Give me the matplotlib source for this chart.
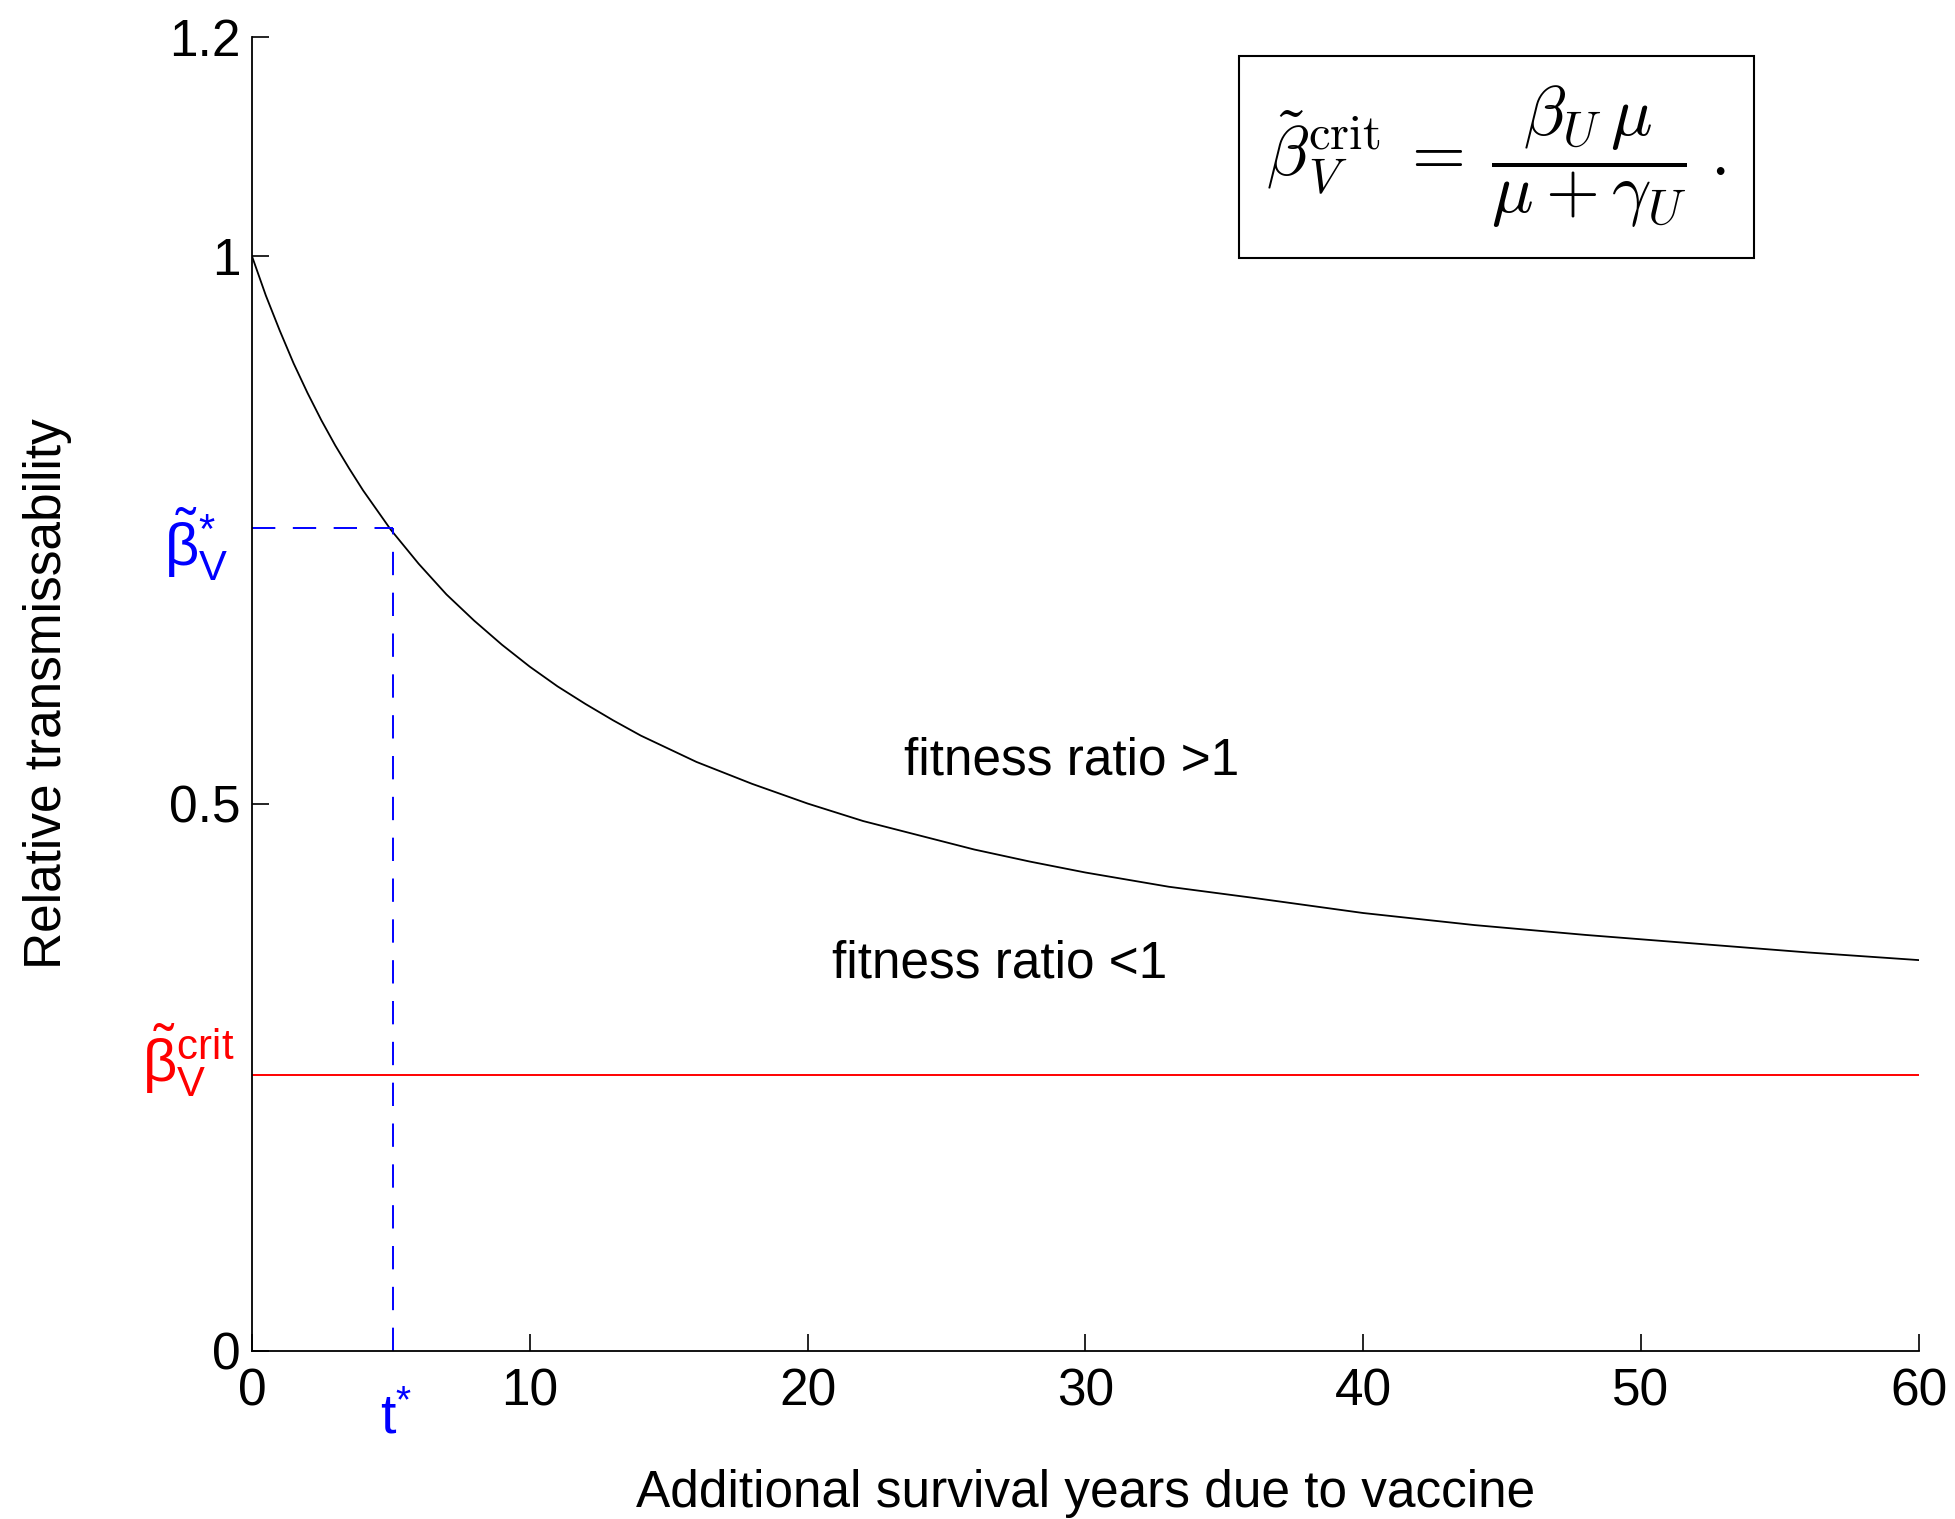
import numpy as np
import matplotlib
matplotlib.use('Agg')
import matplotlib.pyplot as plt

# values
years = [0, 0.5, 1, 1.5, 2, 2.5, 3, 3.5, 4, 5, 6, 7, 8, 9, 10, 11, 12, 13,
         14, 16, 18, 20, 22, 24, 26, 28, 30, 33, 36, 40, 44, 48, 52, 56, 60]
transmissability = [1.000, 0.964, 0.932, 0.902, 0.875, 0.850, 0.827, 0.806,
                    0.786, 0.750, 0.719, 0.691, 0.667, 0.645, 0.625, 0.607,
                    0.591, 0.576, 0.562, 0.538, 0.518, 0.500, 0.484, 0.471,
                    0.458, 0.447, 0.437, 0.424, 0.414, 0.400, 0.389, 0.380,
                    0.372, 0.364, 0.357]
t_star = 5.07
beta_star = 0.752
beta_crit = 0.252
x_ticks = [0, 10, 20, 30, 40, 50, 60]
y_ticks = [0, 0.5, 1, 1.2]
y_tick_labels = ['0', '0.5', '1', '1.2']

plt.rcParams['font.family'] = ['Liberation Sans', 'DejaVu Sans']
plt.rcParams['mathtext.fontset'] = 'custom'
plt.rcParams['mathtext.rm'] = 'Liberation Sans'
plt.rcParams['mathtext.it'] = 'Liberation Sans:italic'

fs = 37

fig = plt.figure(figsize=(19.56, 15.19), dpi=100)
ax = fig.add_axes([0.1288, 0.1106, 0.981 - 0.1288, 0.9756 - 0.1106])

ax.plot(years, transmissability, color='black', lw=1.3)
ax.plot([0, 60], [beta_crit, beta_crit], color='red', lw=1.4)
ax.plot([0, t_star], [beta_star, beta_star], color='blue', lw=1.4, dashes=(12, 9))
ax.plot([t_star, t_star], [0, beta_star], color='blue', lw=1.4, dashes=(12, 9))

ax.set_xlim(0, 60)
ax.set_ylim(0, 1.2)
ax.set_xticks(x_ticks)
ax.set_yticks(y_ticks)
ax.set_yticklabels(y_tick_labels)
ax.tick_params(direction='in', length=12, width=1.2, labelsize=fs, colors='black')
ax.tick_params(axis='x', pad=12)
ax.tick_params(axis='y', pad=8)
ax.spines['top'].set_visible(False)
ax.spines['right'].set_visible(False)
ax.spines['left'].set_linewidth(1.3)
ax.spines['bottom'].set_linewidth(1.3)

ax.set_xlabel('Additional survival years due to vaccine', fontsize=fs, labelpad=38)
ax.set_ylabel('Relative transmissability', fontsize=fs, labelpad=70)

ax.text(29.5, 0.539, 'fitness ratio >1', fontsize=fs, ha='center', va='center')
ax.text(26.9, 0.353, 'fitness ratio <1', fontsize=fs, ha='center', va='center')

ax.text(-2.0, 0.737, r'$\tilde{\mathrm{\beta}}^{*}_{\mathrm{V}}$', color='blue',
        fontsize=43, ha='center', va='center', clip_on=False)
ax.text(-2.3, 0.266, r'$\tilde{\mathrm{\beta}}^{\mathrm{crit}}_{\mathrm{V}}$', color='red',
        fontsize=43, ha='center', va='center', clip_on=False)
ax.text(5.2, -0.062, r'$\mathrm{t}^{*}$', color='blue',
        fontsize=40, ha='center', va='center', clip_on=False)

fig.text(0.765, 0.8966,
         r'$\tilde{\beta}_V^{\rm crit} \:=\: \dfrac{\beta_U\,\mu}{\mu+\gamma_U}\;.$',
         math_fontfamily='cm', fontsize=50, ha='center', va='center',
         bbox=dict(boxstyle='square,pad=0.4', fc='white', ec='black', lw=1.5))

fig.savefig('out.png', dpi=100)
